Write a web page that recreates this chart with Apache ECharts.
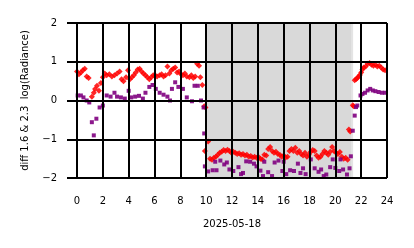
<!DOCTYPE html>
<html>
<head>
<meta charset="utf-8">
<script src="https://cdn.jsdelivr.net/npm/echarts@6/dist/echarts.min.js"></script>
<style>
  html, body { margin: 0; padding: 0; background: #fff; }
  #chart { width: 414px; height: 248px; }
</style>
</head>
<body>
<div id="chart"></div>
<script>
// hour of day, value
const redPoints = [
  [0.0,0.75],[0.15,0.68],[0.3,0.72],[0.45,0.78],[0.6,0.82],[0.75,0.62],[0.9,0.58],
  [1.15,0.1],[1.3,0.2],[1.4,0.3],[1.55,0.38],[1.7,0.25],[1.85,0.45],[2.0,0.6],
  [2.15,0.7],[2.3,0.65],[2.5,0.68],[2.7,0.62],[2.9,0.65],[3.1,0.7],[3.3,0.75],
  [3.45,0.55],[3.6,0.5],[3.8,0.6],[3.95,0.78],[4.1,0.55],[4.25,0.6],[4.4,0.65],
  [4.55,0.72],[4.7,0.8],[4.85,0.82],[5.0,0.75],[5.15,0.7],[5.3,0.65],[5.45,0.6],
  [5.6,0.55],[5.75,0.6],[5.9,0.65],[6.05,0.65],[6.2,0.62],[6.4,0.65],[6.55,0.68],
  [6.7,0.62],[6.85,0.65],[7.0,0.88],[7.15,0.7],[7.3,0.78],[7.45,0.82],[7.6,0.85],
  [7.75,0.72],[7.9,0.75],[8.05,0.68],[8.2,0.65],[8.35,0.7],[8.5,0.62],[8.7,0.6],
  [8.85,0.65],[9.0,0.58],[9.15,0.62],[9.3,0.95],[9.45,0.9],[9.55,0.6],[9.7,0.4],
  [9.85,-0.15],[9.95,-0.18],
  [9.9,-1.3],[10.15,-1.06],[10.3,-1.5],[10.45,-1.53],[10.6,-1.48],[10.75,-1.45],
  [10.9,-1.4],[11.05,-1.35],[11.2,-1.32],[11.35,-1.28],[11.5,-1.3],[11.65,-1.27],
  [11.8,-1.3],[11.95,-1.35],[12.1,-1.32],[12.25,-1.35],[12.4,-1.38],[12.55,-1.36],
  [12.7,-1.4],[12.85,-1.38],[13.0,-1.42],[13.15,-1.4],[13.3,-1.45],[13.45,-1.43],
  [13.6,-1.47],[13.75,-1.45],[13.9,-1.48],[14.05,-1.46],[14.2,-1.5],[14.35,-1.52],
  [14.5,-1.4],[14.65,-1.42],[14.8,-1.25],[14.95,-1.2],[15.1,-1.3],[15.25,-1.35],
  [15.4,-1.32],[15.55,-1.38],[15.7,-1.4],[15.85,-1.45],[16.0,-1.42],[16.15,-1.47],
  [16.3,-1.45],[16.45,-1.3],[16.6,-1.25],[16.75,-1.3],[16.9,-1.22],[17.05,-1.35],
  [17.2,-1.3],[17.35,-1.38],[17.5,-1.42],[17.65,-1.35],[17.8,-1.45],[17.95,-1.4],
  [18.1,-1.32],[18.25,-1.28],[18.4,-1.3],[18.55,-1.42],[18.7,-1.48],[18.85,-1.45],
  [19.0,-1.38],[19.15,-1.3],[19.3,-1.35],[19.45,-1.4],[19.6,-1.32],[19.75,-1.2],
  [19.9,-1.3],[20.05,-1.35],[20.2,-1.38],[20.35,-1.33],[20.5,-1.45],[20.65,-1.5],
  [20.8,-1.48],[20.95,-1.53],[21.05,-0.75],[21.15,-0.8],
  [21.35,-0.12],[21.42,-0.15],[21.5,0.52],[21.6,0.55],[21.7,0.58],[21.8,0.62],
  [21.9,0.66],[22.0,0.72],[22.1,0.8],[22.2,0.85],[22.35,0.88],[22.5,0.95],
  [22.65,0.97],[22.8,0.92],[22.95,0.9],[23.1,0.92],[23.25,0.88],[23.4,0.9],
  [23.55,0.85],[23.7,0.8],[23.85,0.78]
];

const purplePoints = [
  [0.05,0.13],[0.3,0.13],[0.5,0.08],[0.75,0.0],[0.95,-0.05],[1.15,-0.56],[1.3,-0.9],
  [1.5,-0.47],[1.75,-0.18],[2.0,-0.13],[2.3,0.13],[2.6,0.1],[2.9,0.2],[3.1,0.1],
  [3.4,0.08],[3.7,0.05],[4.0,0.25],[4.2,0.08],[4.5,0.1],[4.8,0.12],[5.1,0.05],
  [5.3,0.2],[5.6,0.35],[5.85,0.4],[6.1,0.3],[6.4,0.2],[6.7,0.15],[7.0,0.1],
  [7.2,0.0],[7.35,0.3],[7.6,0.47],[7.85,0.35],[8.2,0.3],[8.5,0.08],[8.9,-0.02],
  [9.1,0.38],[9.35,0.38],[9.6,0.0],[9.8,-0.18],[9.85,-0.85],
  [9.9,-1.7],[10.15,-1.83],[10.5,-1.8],[10.7,-1.58],[10.8,-1.8],[11.1,-1.55],
  [11.4,-1.65],[11.6,-1.6],[11.8,-1.78],[12.1,-1.82],[12.5,-1.72],[12.7,-1.9],
  [12.85,-1.87],[13.1,-1.57],[13.4,-1.58],[13.7,-1.63],[13.9,-1.7],[14.2,-1.81],
  [14.4,-1.95],[14.5,-1.58],[14.8,-1.85],[15.1,-1.95],[15.3,-1.6],[15.6,-1.55],
  [15.9,-1.82],[16.0,-1.58],[16.2,-1.9],[16.5,-1.8],[16.8,-1.82],[17.1,-1.63],
  [17.3,-1.87],[17.5,-1.75],[17.7,-1.9],[18.1,-1.52],[18.4,-1.75],[18.7,-1.84],
  [18.9,-1.78],[19.1,-1.95],[19.3,-1.91],[19.6,-1.72],[19.8,-1.52],[20.0,-1.74],
  [20.3,-1.82],[20.4,-1.52],[20.6,-1.78],[20.9,-1.91],[21.1,-1.75],[21.2,-1.44],
  [21.35,-0.78],[21.5,-0.39],[21.6,-0.17],[21.7,-0.13],[21.95,0.13],[22.1,0.17],
  [22.3,0.2],[22.5,0.26],[22.7,0.3],[22.9,0.26],[23.1,0.24],[23.35,0.22],
  [23.6,0.2],[23.85,0.2]
];

const shadeStart = 10.0;
const shadeEnd = 21.3;
const dateLabel = '2025-05-18';
const yLabel = 'diff 1.6 & 2.3  log(Radiance)';

const font = 'DejaVu Sans';
const minus = v => String(v).replace('-', '\u2212');

const chart = echarts.init(document.getElementById('chart'));
chart.setOption({
  animation: false,
  grid: { left: 77, right: 27, top: 23, bottom: 70 },
  xAxis: {
    type: 'value', min: 0, max: 24, interval: 2, z: 10,
    name: dateLabel, nameLocation: 'middle', nameGap: 41,
    nameTextStyle: { fontFamily: font, fontSize: 10, color: '#000' },
    axisLine: { show: false },
    axisTick: { show: true, length: 9, lineStyle: { color: '#000', width: 2 } },
    axisLabel: { fontFamily: font, fontSize: 10, color: '#000', margin: 18 },
    splitLine: { show: true, lineStyle: { color: '#000', width: 2 } }
  },
  yAxis: {
    type: 'value', min: -2, max: 2, interval: 1, z: 10,
    name: yLabel, nameLocation: 'middle', nameGap: 47, nameRotate: 90,
    nameTextStyle: { fontFamily: font, fontSize: 10, color: '#000' },
    axisLine: { show: false },
    axisTick: { show: true, length: 10, lineStyle: { color: '#000', width: 2 } },
    axisLabel: { fontFamily: font, fontSize: 10, color: '#000', margin: 20, formatter: minus },
    splitLine: { show: true, lineStyle: { color: '#000', width: 2 } }
  },
  series: [
    {
      type: 'scatter', data: [], z: -1, silent: true,
      markArea: {
        silent: true,
        itemStyle: { color: '#d9d9d9', borderColor: '#e4e4e4', borderWidth: 2 },
        data: [[{ xAxis: shadeStart }, { xAxis: shadeEnd }]]
      }
    },
    {
      type: 'scatter', data: redPoints, symbol: 'diamond', symbolSize: 6,
      itemStyle: { color: '#ff0000', opacity: 0.85 }
    },
    {
      type: 'scatter', data: purplePoints, symbol: 'rect', symbolSize: 4,
      itemStyle: { color: '#800080', opacity: 0.9 }
    }
  ]
});
</script>
</body>
</html>
